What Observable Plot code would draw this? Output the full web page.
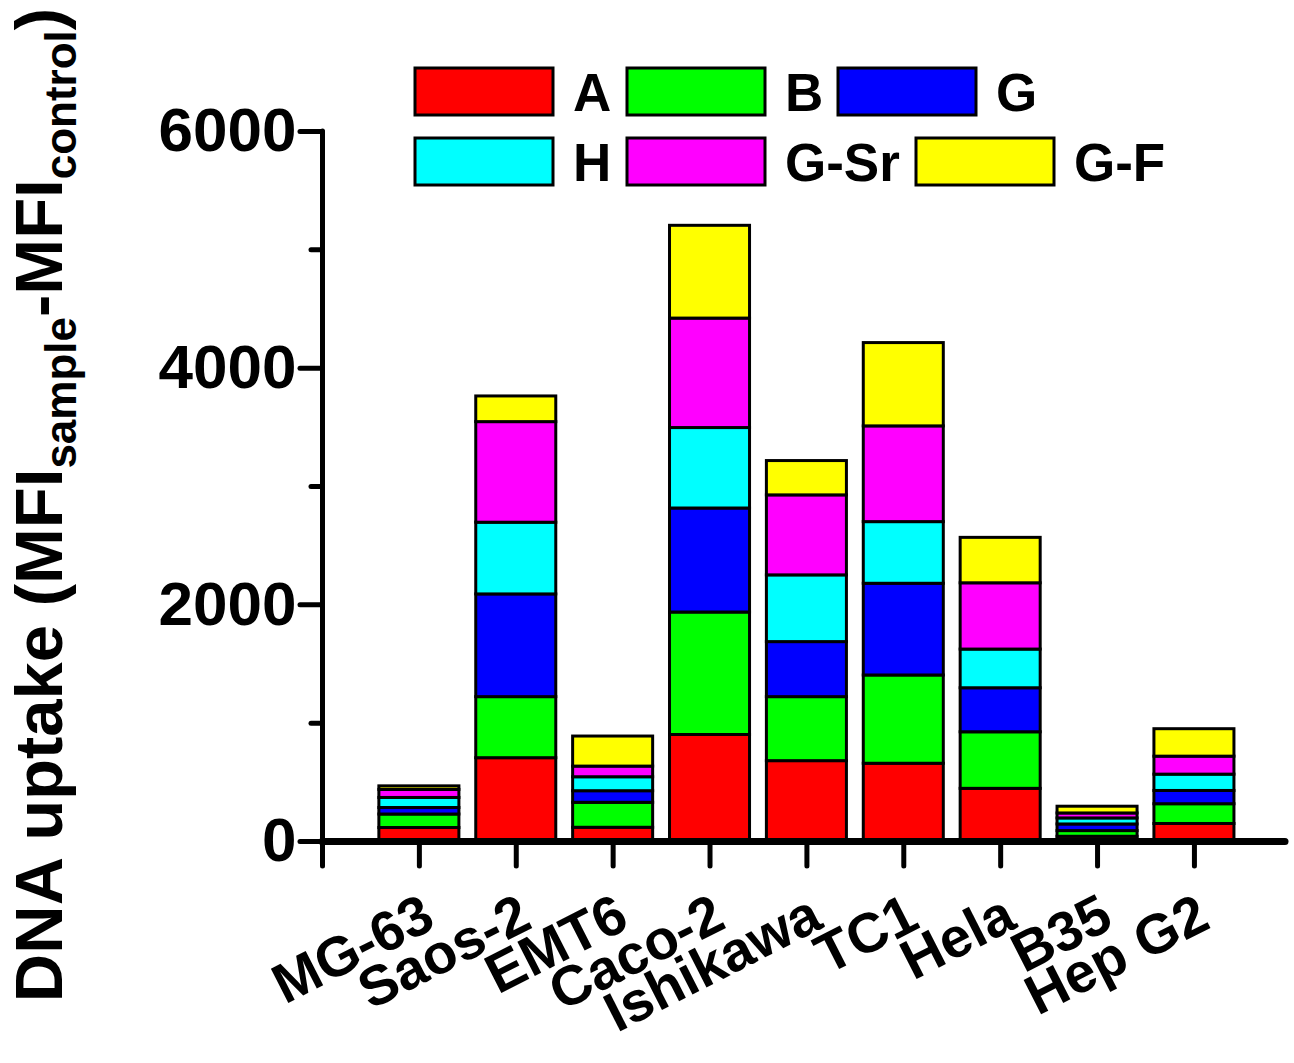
<!DOCTYPE html>
<html><head><meta charset="utf-8">
<script src="https://cdn.jsdelivr.net/npm/d3@7"></script>
<script src="https://cdn.jsdelivr.net/npm/@observablehq/plot@0.6"></script>
<style>body{margin:0;background:#fff} svg{display:block}</style>
</head><body><div id="chart"></div>
<script>
const categories = ["MG-63","Saos-2","EMT6","Caco-2","Ishikawa","TC1","Hela","B35","Hep G2"];
const seriesNames = ["A","B","G","H","G-Sr","G-F"];
const seriesColors = ["#ff0000","#00ff00","#0000ff","#00ffff","#ff00ff","#ffff00"];
const valuesA   = [114, 704, 116,  900, 679, 657, 445, 40, 148];
const valuesB   = [114, 516, 211, 1035, 541, 746, 478, 48, 167];
const valuesG   = [ 55, 868,  98,  879, 465, 775, 372, 56, 112];
const valuesH   = [ 85, 606, 118,  680, 564, 521, 327, 51, 138];
const valuesGSr = [ 68, 850,  90,  925, 676, 809, 560, 42, 152];
const valuesGF  = [ 30, 217, 254,  784, 290, 704, 384, 57, 232];
const yTicks = [0, 2000, 4000, 6000];
const yMinorTicks = [1000, 3000, 5000];

const seriesValues = [valuesA, valuesB, valuesG, valuesH, valuesGSr, valuesGF];
const rows = [];
categories.forEach((c, i) => seriesNames.forEach((s, j) =>
  rows.push({category: c, pos: i + 1, series: s, value: seriesValues[j][i]})));

const halfBar = 0.413;
const font = "'Liberation Sans', Arial, sans-serif";

const plot = Plot.plot({
  width: 1294, height: 1063,
  marginLeft: 322, marginRight: 9, marginTop: 131, marginBottom: 222,
  style: {fontFamily: font, fontWeight: "bold", color: "black", background: "white", fontSize: "62px"},
  x: {domain: [0, 9.94], axis: null},
  y: {domain: [0, 6000], axis: null},
  color: {domain: seriesNames, range: seriesColors},
  marks: [
    Plot.rectY(rows, {x1: d => d.pos - halfBar, x2: d => d.pos + halfBar, y: "value",
      fill: "series", stroke: "black", strokeWidth: 3}),
    Plot.axisY(yTicks, {tickSize: 22, tickPadding: 4, fontSize: 62, fontWeight: "bold",
      strokeWidth: 5, label: null, tickFormat: d => String(d)}),
    Plot.axisY(yMinorTicks, {tickSize: 11, strokeWidth: 5, tickFormat: () => "", label: null}),
    Plot.axisX(d3.range(0, 10), {tickSize: 25, strokeWidth: 5, tickFormat: () => "", label: null}),
    Plot.ruleX([0], {y1: 0, y2: 6000, strokeWidth: 5}),
    Plot.ruleY([0], {strokeWidth: 7}),
    Plot.text(categories, {x: (d, i) => i + 1, y: 0, text: d => d, rotate: -27,
      textAnchor: "end", lineAnchor: "top", dx: 0, dy: 50, fontSize: 56, fontWeight: "bold",
      ariaLabel: "category-labels"})
  ]
});

const svg = d3.select(plot);
svg.selectAll("g[aria-label='y-axis tick'], g[aria-label='x-axis tick'], g[aria-label='rule']")
  .attr("stroke-linecap", "round");
// vertical stretch of the rotated category labels (as in the reference)
svg.selectAll("g[aria-label='category-labels'] text").each(function() {
  const t = this.getAttribute("transform") || "";
  this.setAttribute("transform", t.replace(/rotate\(([^)]*)\)/, "scale(1,1.16) rotate($1)"));
});

// y-axis title with subscripts
const title = svg.append("text")
  .attr("transform", "translate(62,505) rotate(-90)")
  .attr("text-anchor", "middle")
  .attr("font-family", font).attr("font-weight", "bold").attr("font-size", 67)
  .attr("fill", "black");
title.append("tspan").text("DNA uptake (MFI");
title.append("tspan").attr("font-size", 44).attr("dy", 14).text("sample");
title.append("tspan").attr("dy", -14).text("-MFI");
title.append("tspan").attr("font-size", 44).attr("dy", 14).text("control");
title.append("tspan").attr("dy", -14).text(")");

// legend
const legendX = [415, 627, 838, 415, 627, 916];
const legendY = [68, 68, 68, 138, 138, 138];
const lg = svg.append("g");
seriesNames.forEach((s, i) => {
  lg.append("rect").attr("x", legendX[i]).attr("y", legendY[i]).attr("width", 138).attr("height", 47)
    .attr("fill", seriesColors[i]).attr("stroke", "black").attr("stroke-width", 3);
  lg.append("text").attr("x", legendX[i] + 158).attr("y", legendY[i] + 23.5).attr("dy", "0.36em")
    .attr("text-anchor", "start")
    .attr("font-family", font).attr("font-weight", "bold").attr("font-size", 53).attr("fill", "black")
    .text(s);
});

document.getElementById("chart").appendChild(plot);
</script>
</body></html>
